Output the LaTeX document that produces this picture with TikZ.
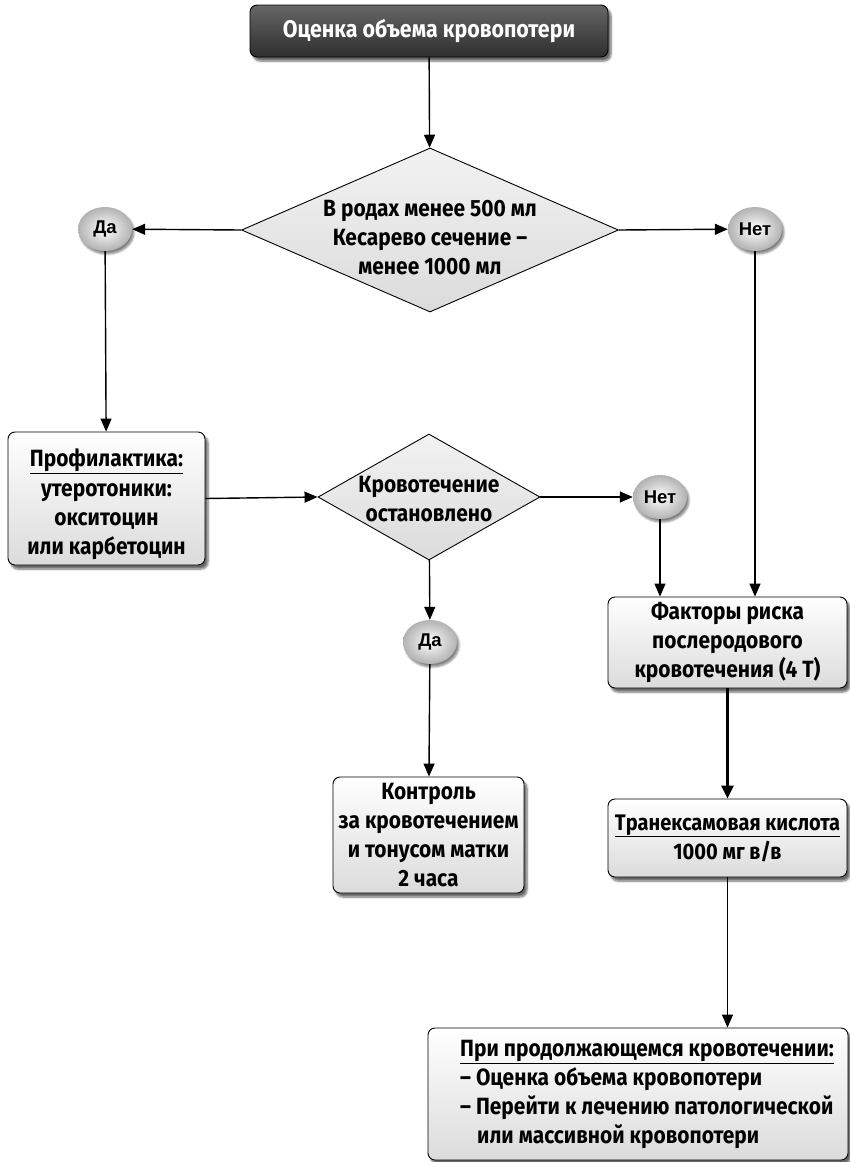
\documentclass[tikz,border=0pt]{standalone}
\usepackage{fontspec}
\setmainfont{Fira Sans}[FakeStretch=0.89]
\newfontfamily\ynfont{Liberation Sans}
\usetikzlibrary{shapes.geometric,shadows.blur,arrows.meta}
\begin{document}
\begin{tikzpicture}[x=1pt,y=-1pt,
  font=\fontsize{23.5}{29}\selectfont\bfseries,
  shade box/.style={draw=black, line width=0.9pt, rounded corners=7pt,
    top color=white, bottom color=black!14, align=center, inner sep=0pt,
    blur shadow={shadow xshift=3pt, shadow yshift=-4pt, shadow blur steps=6, shadow opacity=60}},
  title box/.style={shade box, top color=black!60, bottom color=black!82, text=white,
    font=\fontsize{24}{29}\selectfont\bfseries},
  choice/.style={diamond, draw=black, line width=0.9pt, inner sep=0pt,
    top color=black!5, bottom color=black!14},
  answer/.style={ellipse, minimum width=54pt, minimum height=44pt, inner sep=0pt,
    shading=radial, inner color=white, outer color=black!30,
    blur shadow={shadow xshift=2pt, shadow yshift=-3pt, shadow blur steps=5, shadow opacity=50},
    font=\ynfont\fontsize{18.5}{20}\selectfont\bfseries},
  flow/.style={line width=1.4pt, -{Triangle[length=13pt,width=11pt]}},
  heavy/.style={line width=2.8pt, -{Triangle[length=13pt,width=12pt]}},
]
\useasboundingbox (0,0) rectangle (849,1162);

% boxes and decisions
\node[title box, minimum width=358pt, minimum height=52pt] (start) at (429,31) {Оценка объема кровопотери};

\node[choice, minimum width=377pt, minimum height=164pt,
  label={[align=center, yshift=-8pt]center:В родах менее 500 мл\\Кесарево сечение –\\менее 1000 мл}] (q1) at (430,230) {};

\node[answer] (yes1) at (105,229) {Да};
\node[answer] (no1) at (755,229) {Нет};

\node[shade box, minimum width=197pt, minimum height=133pt] (prof) at (106.5,498.5)
  {\rule{0pt}{30pt}\underline{Профилактика:}\\[1pt]утеротоники:\\окситоцин\\или карбетоцин};

\node[choice, minimum width=222pt, minimum height=126pt,
  label={[align=center, yshift=-2pt]center:Кровотечение\\остановлено}] (q2) at (429,497) {};

\node[answer] (no2) at (660,497) {Нет};
\node[answer] (yes2) at (430,642) {Да};

\node[shade box, minimum width=239pt, minimum height=91pt] (risk) at (727.5,642.5)
  {Факторы риска\\послеродового\\кровотечения (4 Т)};

\node[shade box, minimum width=191pt, minimum height=116pt] (watch) at (428.5,835)
  {Контроль\\за кровотечением\\и тонусом матки\\2 часа};

\node[shade box, minimum width=239pt, minimum height=78pt,
  font=\fontsize{22.5}{29}\selectfont\bfseries] (txa) at (727.5,838)
  {\underline{Транексамовая кислота}\\1000 мг в/в};

\node[shade box, minimum width=420pt, minimum height=132pt] (cont) at (638,1094) {};
\node[anchor=north west, align=left, inner sep=0pt] (conttext) at (460,1040)
  {\underline{При продолжающемся кровотечении:}\\
   – Оценка объема кровопотери\\
   – Перейти к лечению патологической\\
   \hspace*{17pt}или массивной кровопотери};

% connectors
\draw[flow] (start) -- (q1);
\draw[flow] (q1.west) -- (yes1);
\draw[flow] (q1.east) -- (no1);
\draw[flow] (yes1) -- (prof);
\draw[flow] (prof.east) -- (q2.west);
\draw[flow] (q2.east) -- (no2);
\draw[flow] (q2) -- (yes2);
\draw[flow] (yes2) -- (watch);
\draw[flow] (no2) -- (no2 |- risk.north);
\draw[flow] (no1) -- (no1 |- risk.north);
\draw[heavy] (risk.south) -- (txa.north);
\draw[flow] (txa.south) -- (cont.north -| txa.south);
\end{tikzpicture}
\end{document}
